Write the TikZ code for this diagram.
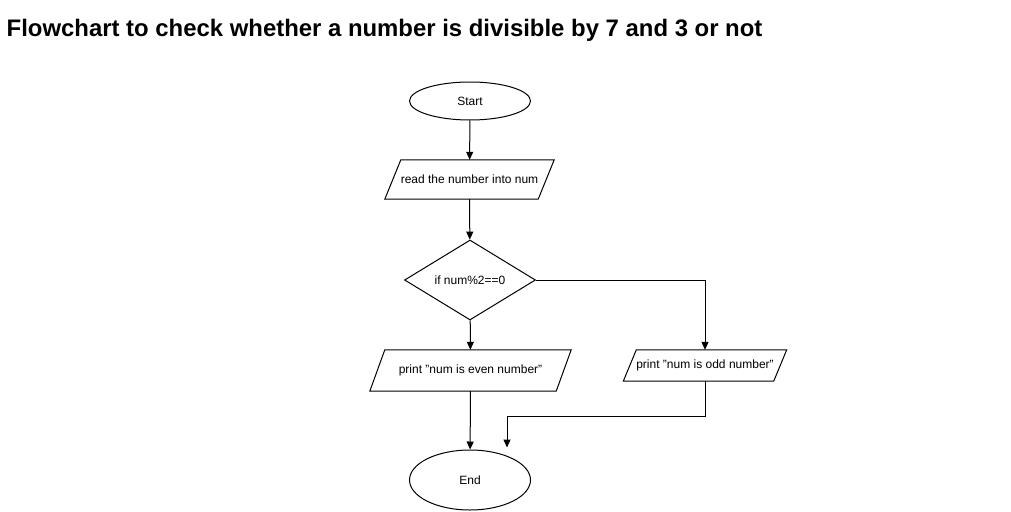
\documentclass[tikz,border=0pt]{standalone}
\usepackage{fontspec}
\setmainfont{Liberation Sans}
\usetikzlibrary{shapes.geometric,arrows.meta,calc}
\tikzset{
  box/.style={draw=none,rectangle,inner sep=0pt,font=\fontsize{12}{14}\selectfont},
  oval/.style={draw,ellipse,inner sep=0pt,line width=1pt,font=\fontsize{12}{14}\selectfont},
  dec/.style={draw,diamond,inner sep=0pt,line width=1pt,font=\fontsize{12}{14}\selectfont},
  arr/.style={line width=1pt,-{Triangle[length=8pt,width=7pt]}},
  ln/.style={line width=1pt},
}
\newcommand{\para}[2]{%
  \draw[ln] ($(#1.south west)$) -- ($(#1.north west)+(#2,0)$) -- ($(#1.north east)$) -- ($(#1.south east)-(#2,0)$) -- cycle;}
\begin{document}
\begin{tikzpicture}[x=1pt,y=-1pt]
\useasboundingbox (0,0) rectangle (1011,511);
\node[anchor=base west,inner sep=0pt,font=\fontsize{23.9}{28}\selectfont\bfseries] (title) at (6.5,37) {Flowchart to check whether a number is divisible by 7 and 3 or not};
\node[oval,minimum width=121pt,minimum height=38pt] (start) at (470,101) {Start};
\node[box,minimum width=169pt,minimum height=39pt] (read) at (469.5,179.5) {read the number into num};
\para{read}{16}
\node[dec,minimum width=131pt,minimum height=80pt] (if) at (470,280) {if num\%2==0};
\node[box,minimum width=201pt,minimum height=41pt] (even) at (470.5,370.5) {print "num is even number"};
\para{even}{15}
\node[box,minimum width=163pt,minimum height=31pt] (odd) at (705,365.5) {print "num is odd number"};
\para{odd}{13}
\node[oval,minimum width=121pt,minimum height=60pt] (end) at (470,480) {End};
\coordinate (j) at (507,416);
\draw[arr] (start) -- (read);
\draw[arr] (read) -- (if);
\draw[arr] (if) -- (even);
\draw[arr] (if.east) -| (odd.north);
\draw[arr] (even) -- (end);
\draw[arr,shorten >=2pt] (odd.south) |- (j) -- (j |- end.north);
\end{tikzpicture}
\end{document}
